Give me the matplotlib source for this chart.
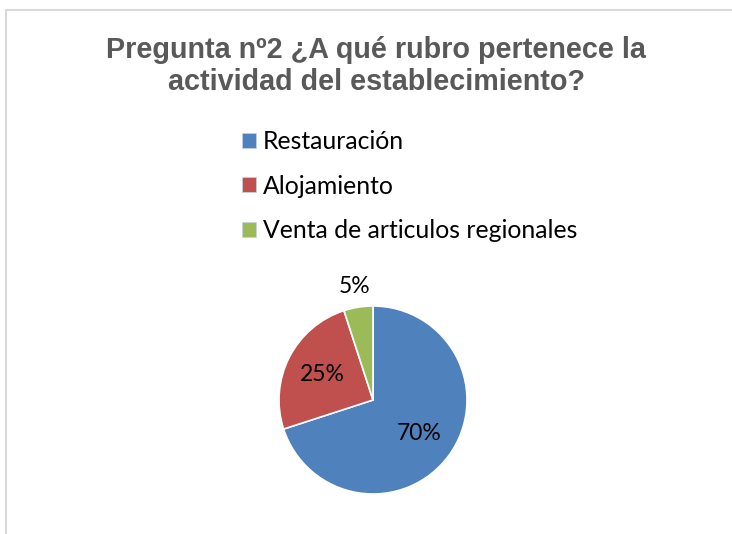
import numpy as np
import matplotlib.pyplot as plt
from matplotlib.patches import Patch, Rectangle

categories = ["Restauración", "Alojamiento", "Venta de articulos regionales"]
values = [70, 25, 5]
colors = ["#4F81BD", "#C0504D", "#9BBB59"]
title_lines = ["Pregunta nº2 ¿A qué rubro pertenece la", "actividad del establecimiento?"]

W, H = 732, 534
fig = plt.figure(figsize=(W / 100, H / 100), dpi=100)

# chart frame (only the top and left edge are visible)
fig.add_artist(Rectangle((6 / W, -0.1), 2, (H - 10) / H + 0.1, transform=fig.transFigure,
                         fill=False, edgecolor="#d9d9d9", lw=1.5))

# title, one text per line (baselines at 58 and 90 px)
for line, base in zip(title_lines, [58, 90]):
    fig.text(376 / W, 1 - base / H, line, ha="center", va="baseline", fontsize=20.7,
             fontweight="bold", color="#595959", family="Liberation Sans")

# pie: center (373, 400) px, radius 94 px
r, cx, cy = 94, 373, 400
ax = fig.add_axes([(cx - r) / W, (H - cy - r) / H, 2 * r / W, 2 * r / H])
wedges, _, autotexts = ax.pie(values, colors=colors, startangle=90, counterclock=False,
                              autopct="%1.0f%%", pctdistance=0.6,
                              wedgeprops=dict(edgecolor="white", linewidth=1.2),
                              textprops=dict(fontsize=16.5, family="Lato", color="black"))
ax.set_xlim(-1, 1)
ax.set_ylim(-1, 1)
ax.set_aspect("auto")

# small slice label sits outside the pie
for w, t, v in zip(wedges, autotexts, values):
    if v < 10:
        ang = np.deg2rad((w.theta1 + w.theta2) / 2)
        t.set_position((1.24 * np.cos(ang), 1.22 * np.sin(ang)))

handles = [Patch(facecolor=c, edgecolor="#c6d4e8", lw=0.5) for c in colors]
fig.legend(handles, categories, loc="upper left", bbox_to_anchor=(242 / W, 1 - 130 / H),
           frameon=False, prop=dict(family="Lato", size=17.8), handlelength=0.57,
           handleheight=0.57, handletextpad=0.28, labelspacing=0.87, borderpad=0,
           borderaxespad=0)

fig.savefig("out.png", dpi=100, facecolor="white")
